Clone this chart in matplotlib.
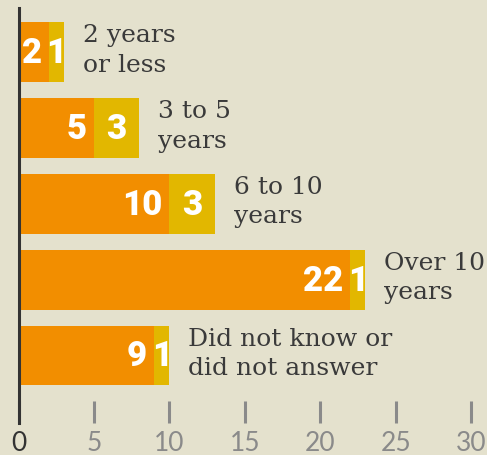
import matplotlib
matplotlib.use("Agg")
import matplotlib.pyplot as plt

categories = ["2 years\nor less", "3 to 5\nyears", "6 to 10\nyears", "Over 10\nyears", "Did not know or\ndid not answer"]
orange_vals = [2, 5, 10, 22, 9]
yellow_vals = [1, 3, 3, 1, 1]
xticks = [0, 5, 10, 15, 20, 25, 30]

BG = "#E4E1CD"
ORANGE = "#F28E00"
YELLOW = "#E2B700"
DARK = "#3A3A3A"
GRAY = "#8A8A8A"

W, H = 487, 455
dpi = 100
fig = plt.figure(figsize=(W / dpi, H / dpi), dpi=dpi, facecolor=BG)
ax = fig.add_axes([18.5 / W, (H - 423) / H, (471 - 18.5) / W, (423 - 8) / H])
ax.set_facecolor(BG)

y = list(range(len(categories)))
bh = 0.79
ax.barh(y, orange_vals, height=bh, color=ORANGE, linewidth=0)
ax.barh(y, yellow_vals, left=orange_vals, height=bh, color=YELLOW, linewidth=0)

px = 30 / (471 - 18.5)  # data units per pixel
for i, (o, yv, cat) in enumerate(zip(orange_vals, yellow_vals, categories)):
    ax.text(o - 7 * px, i + 0.02, str(o), ha="right", va="center", color="white",
            fontsize=25, fontweight="heavy", family="Roboto")
    ax.text(o + yv / 2, i + 0.02, str(yv), ha="center", va="center", color="white",
            fontsize=25, fontweight="heavy", family="Roboto")
    ax.text(o + yv + 19 * px, i - 0.02, cat, ha="left", va="center", color=DARK,
            fontsize=18, family="DejaVu Serif", linespacing=1.35)

ax.set_xlim(0, 30)
ax.set_ylim(4.89, -0.58)
for s in ["top", "right", "bottom"]:
    ax.spines[s].set_visible(False)
ax.spines["left"].set_color("#333333")
ax.spines["left"].set_linewidth(2.2)
ax.set_yticks([])
ax.set_xticks(xticks)
ax.set_xticklabels([str(t) for t in xticks], family="Lato", fontsize=19, color=GRAY)
ax.get_xticklabels()[0].set_color("#333333")
ax.tick_params(axis="x", direction="in", length=15.8, width=2.2, color=GRAY, pad=6)

fig.savefig("out.png", dpi=dpi, facecolor=BG)
